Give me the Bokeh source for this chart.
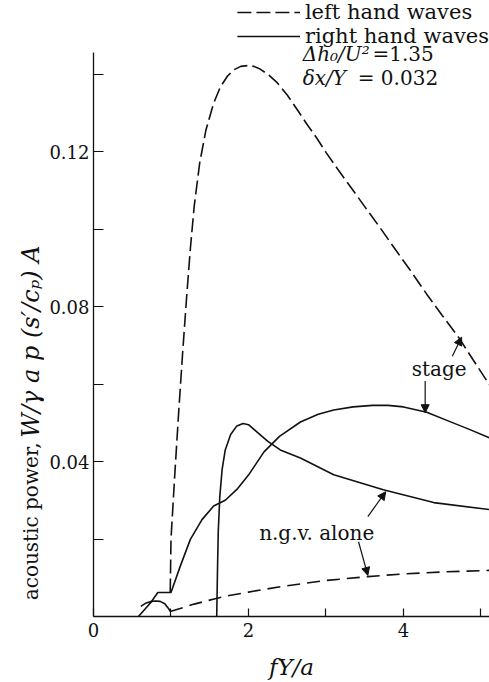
from bokeh.plotting import figure
from bokeh.layouts import row
from bokeh.models import (Range1d, FixedTicker, Label, Arrow, NormalHead,
                          Legend, LegendItem)
from bokeh.embed import file_html
from bokeh.resources import INLINE
import math

# ---------------- data ----------------
# left hand waves, stage (dashed)
lh_stage_x = [0.99, 1.00, 1.05, 1.10, 1.15, 1.20, 1.25, 1.30, 1.37, 1.45, 1.55,
              1.64, 1.73, 1.81, 1.90, 1.99, 2.07, 2.15, 2.26, 2.37, 2.50, 2.63,
              2.75, 2.88, 3.00, 3.15, 3.32, 3.50, 3.70, 3.90, 4.10, 4.30, 4.50,
              4.71, 4.90, 5.11]
lh_stage_y = [0.0062, 0.020, 0.037, 0.053, 0.068, 0.082, 0.095, 0.106, 0.117,
              0.1255, 0.1325, 0.1368, 0.1395, 0.1411, 0.1420, 0.1422, 0.1420,
              0.1413, 0.1398, 0.1378, 0.1346, 0.1308, 0.1272, 0.1235, 0.1198,
              0.1155, 0.1108, 0.1058, 0.1003, 0.0946, 0.0890, 0.0832, 0.0777,
              0.0721, 0.0662, 0.0598]
# right hand waves, stage (solid)
rh_stage_x = [0.58, 0.66, 0.74, 0.83, 0.92, 1.00, 1.12, 1.25, 1.40, 1.55, 1.70,
              1.85, 2.00, 2.20, 2.40, 2.67, 2.90, 3.10, 3.35, 3.60, 3.80, 4.00,
              4.30, 4.60, 4.85, 5.11]
rh_stage_y = [0.0, 0.0018, 0.0036, 0.0062, 0.0062, 0.0062, 0.013, 0.0199, 0.025,
              0.0285, 0.030, 0.0328, 0.0365, 0.0425, 0.0465, 0.0502, 0.0522,
              0.0533, 0.0541, 0.0545, 0.0545, 0.0541, 0.0527, 0.0503, 0.0483,
              0.0461]
# right hand waves, n.g.v. alone (solid)
rh_ngv_x = [1.59, 1.60, 1.61, 1.63, 1.66, 1.70, 1.77, 1.85, 1.93, 2.00, 2.10,
            2.25, 2.41, 2.67, 3.10, 3.74, 4.39, 5.11]
rh_ngv_y = [0.0, 0.012, 0.022, 0.031, 0.038, 0.043, 0.047, 0.0492, 0.0498,
            0.0495, 0.0478, 0.0452, 0.0430, 0.0409, 0.0366, 0.0327, 0.0294,
            0.0276]
# n.g.v. alone, low-frequency hump (solid)
ngv_hump_x = [0.61, 0.68, 0.75, 0.80, 0.86, 0.92, 0.97, 0.99]
ngv_hump_y = [0.0026, 0.0035, 0.0039, 0.0040, 0.0039, 0.0033, 0.0020, 0.0013]
# left hand waves, n.g.v. alone (dashed)
lh_ngv_x = [0.99, 1.30, 1.57, 1.77, 2.00, 2.41, 3.00, 3.54, 4.00, 4.50, 5.11]
lh_ngv_y = [0.0013, 0.0032, 0.0046, 0.0055, 0.0063, 0.0077, 0.0093, 0.0103,
            0.0110, 0.0115, 0.0119]

x_major = [0, 2, 4]
x_minor = [1, 3, 5]
y_major = [0.04, 0.08, 0.12]
y_minor = [0.02, 0.06, 0.10, 0.14]

FONT = "DejaVu Serif"
INK = "#111111"

LEFT_W = 44
p = figure(width=489 - LEFT_W, height=682, output_backend="svg",
           toolbar_location=None,
           x_range=Range1d(0, 5.11), y_range=Range1d(0, 0.159),
           min_border_left=93 - LEFT_W, min_border_right=0, min_border_top=0,
           min_border_bottom=65)
p.outline_line_color = None
p.grid.visible = False
p.background_fill_color = "white"
p.border_fill_color = "white"

# axes
p.xaxis.ticker = FixedTicker(ticks=x_major, minor_ticks=x_minor)
p.yaxis.ticker = FixedTicker(ticks=y_major, minor_ticks=y_minor)
p.yaxis.bounds = (0, 0.1455)
for ax in (p.xaxis, p.yaxis):
    ax.axis_line_color = INK
    ax.axis_line_width = 1.3
    ax.major_tick_line_color = INK
    ax.minor_tick_line_color = INK
    ax.major_tick_line_width = 1.2
    ax.minor_tick_line_width = 1.2
    ax.major_tick_out = 0
    ax.minor_tick_out = 0
    ax.major_label_text_font = FONT
    ax.major_label_text_font_size = "18px"
    ax.major_label_text_color = INK
p.yaxis.major_tick_in = 10
p.yaxis.minor_tick_in = 10
p.xaxis.major_tick_in = 8
p.xaxis.minor_tick_in = 8
p.yaxis.major_label_standoff = 4
p.xaxis.major_label_standoff = 6
p.xaxis.axis_label = "fY/a"
p.xaxis.axis_label_text_font = FONT
p.xaxis.axis_label_text_font_style = "italic"
p.xaxis.axis_label_text_font_size = "23px"
p.xaxis.axis_label_text_color = INK
p.xaxis.axis_label_standoff = 14

# curves
r_ls = p.line(lh_stage_x, lh_stage_y, line_color=INK, line_width=1.6,
              line_dash="14 5")
r_rs = p.line(rh_stage_x, rh_stage_y, line_color=INK, line_width=1.6)
p.line(rh_ngv_x, rh_ngv_y, line_color=INK, line_width=1.6)
p.line(ngv_hump_x, ngv_hump_y, line_color=INK, line_width=1.6)
p.line(lh_ngv_x, lh_ngv_y, line_color=INK, line_width=1.6, line_dash="13 7")

# legend
legend = Legend(items=[LegendItem(label="left hand waves", renderers=[r_ls]),
                       LegendItem(label="right hand waves", renderers=[r_rs])],
                location="top_right", border_line_color=None,
                background_fill_alpha=0, label_text_font=FONT,
                label_text_font_size="21px", label_text_color=INK,
                glyph_width=63, glyph_height=18, label_height=18,
                padding=3, margin=0, spacing=-6, label_standoff=5)
p.add_layout(legend)


def lab(fig, x, y, text, style="normal", size="19px", align="left", angle=0.0):
    fig.add_layout(Label(x=x, y=y, text=text, text_font=FONT,
                         text_font_style=style, text_font_size=size,
                         text_color=INK, text_align=align,
                         text_baseline="middle", angle=angle))


# parameters
lab(p, 2.70, 0.1452, "Δh₀/U²", "italic", size="20px")
lab(p, 3.60, 0.1452, "=1.35", size="20px")
lab(p, 2.70, 0.1389, "δx/Y", "italic", size="20px")
lab(p, 3.41, 0.1389, "=  0.032", size="20px")

# annotations
lab(p, 4.46, 0.0640, "stage", align="center", size="20px")
lab(p, 2.88, 0.0216, "n.g.v. alone", align="center", size="20px")


def arrow(x0, y0, x1, y1):
    p.add_layout(Arrow(end=NormalHead(size=8, fill_color=INK, line_color=INK),
                       x_start=x0, y_start=y0, x_end=x1, y_end=y1,
                       line_color=INK, line_width=1.2))


arrow(4.63, 0.0672, 4.75, 0.0721)
arrow(4.28, 0.0608, 4.28, 0.0526)
arrow(3.54, 0.0258, 3.77, 0.0322)
arrow(3.42, 0.0193, 3.54, 0.0106)

# left strip holding the rotated y-axis title (pixel coordinates)
t = figure(width=LEFT_W, height=682, output_backend="svg",
           toolbar_location=None, x_range=Range1d(0, LEFT_W),
           y_range=Range1d(0, 682), min_border=0)
t.axis.visible = False
t.grid.visible = False
t.outline_line_color = None
t.background_fill_color = "white"
t.border_fill_color = "white"
lab(t, 30, 18, "acoustic power,", angle=math.pi / 2, size="20px")
lab(t, 30, 198, "W/γ a p (s′/cₚ)  A", "italic", angle=math.pi / 2,
    size="24px")

layout = row(t, p, spacing=0)
open("out.html", "w").write(file_html(layout, INLINE))
